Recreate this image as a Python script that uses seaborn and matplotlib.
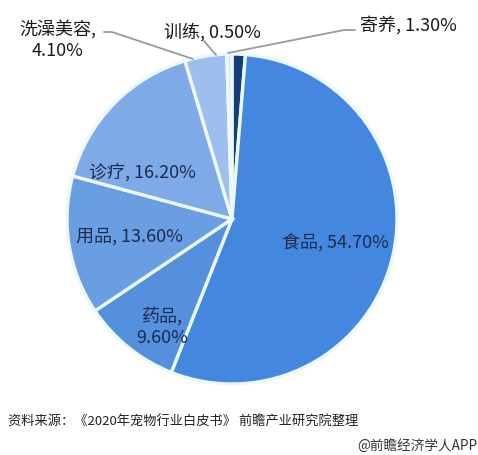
import seaborn as sns
import matplotlib.pyplot as plt

categories = ['寄养', '食品', '药品', '用品', '诊疗', '洗澡美容', '训练']
shares = [1.30, 54.70, 9.60, 13.60, 16.20, 4.10, 0.50]
colors = ['#123f7a', '#4388de', '#5590dc', '#6a9ee3', '#7eabe8', '#9dbfee', '#d3e4f7']

source_text = '资料来源：《2020年宠物行业白皮书》 前瞻产业研究院整理'
credit_text = '@前瞻经济学人APP'

sns.set_style('white')
plt.rcParams['font.family'] = ['Noto Sans CJK SC', 'DejaVu Sans']

# pie centre / radius in pixels, used to map label positions
CX, CY, R = 232, 220, 165
W, H = 478, 456

def px(x, y):
    return ((x - CX) / R, (CY - y) / R)

fig = plt.figure(figsize=(4.78, 4.56), dpi=100)
ax = fig.add_axes([0, 0, 1, 1])
ax.pie(shares, colors=colors, startangle=90, counterclock=False,
       radius=1, center=(0, 0),
       wedgeprops=dict(edgecolor='#eef8fb', linewidth=2.4))
ax.set_xlim(-CX / R, (W - CX) / R)
ax.set_ylim(-(H - CY) / R, CY / R)
ax.axis('off')

inner = '#1c2b4f'
outer = '#1b1b1b'
labels = {
    '食品': ((335, 242), inner, f'食品, {shares[1]:.2f}%'),
    '药品': ((162, 327), inner, f'药品,\n{shares[2]:.2f}%'),
    '用品': ((129, 237), inner, f'用品, {shares[3]:.2f}%'),
    '诊疗': ((142, 172), inner, f'诊疗, {shares[4]:.2f}%'),
    '洗澡美容': ((58, 40), outer, f'洗澡美容,\n{shares[5]:.2f}%'),
    '训练': ((212, 32), outer, f'训练, {shares[6]:.2f}%'),
    '寄养': ((408, 25), outer, f'寄养, {shares[0]:.2f}%'),
}
for name, (pos, c, txt) in labels.items():
    x, y = px(*pos)
    ax.text(x, y, txt, ha='center', va='center', linespacing=1.25,
            fontsize=13, color=c)

# leader lines
lines = [
    [(104, 33), (112, 33), (193, 60)],
    [(204, 42), (216, 56)],
    [(355, 31), (344, 31), (228, 54)],
]
for pts in lines:
    xy = [px(*p) for p in pts]
    ax.plot([p[0] for p in xy], [p[1] for p in xy], color='#9a9a9a', lw=1.3)

fig.text(8 / W, 1 - 422 / H, source_text, fontsize=9.5, color='#222222', va='center')
fig.text(477 / W, 1 - 446 / H, credit_text, fontsize=9.8, color='#333333',
         va='center', ha='right')

fig.savefig('out.png', dpi=100)
